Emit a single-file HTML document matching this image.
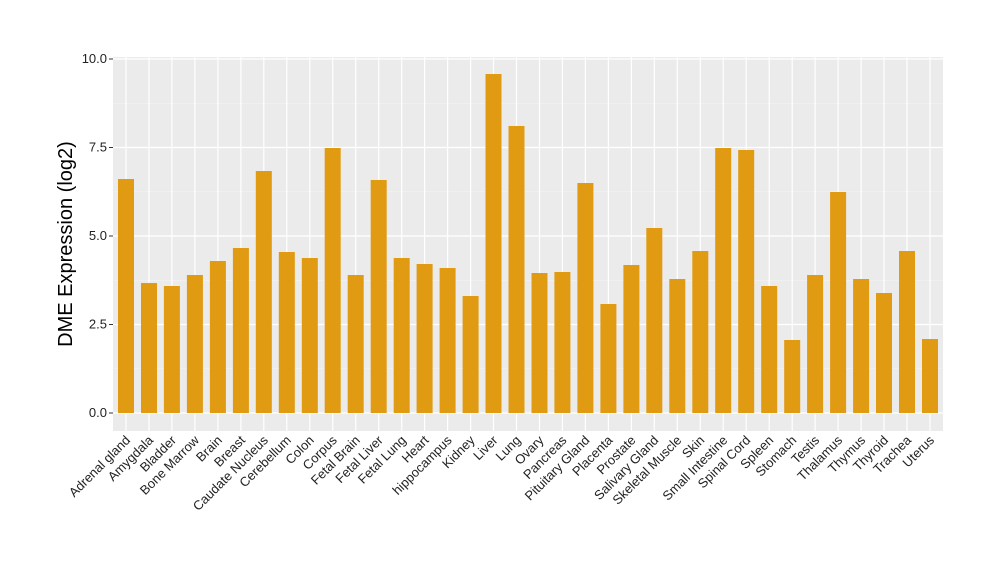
<!DOCTYPE html>
<html><head><meta charset="utf-8"><style>body{margin:0;background:#fff}svg{display:block}</style></head><body>
<svg width="1000" height="580" xmlns="http://www.w3.org/2000/svg" font-family="Liberation Sans, sans-serif">
<rect x="113" y="57" width="830" height="374" fill="#ebebeb"/>
<g stroke="#f5f5f5" stroke-width="0.6">
<line x1="113" x2="943" y1="368.75" y2="368.75"/><line x1="113" x2="943" y1="280.25" y2="280.25"/><line x1="113" x2="943" y1="191.75" y2="191.75"/><line x1="113" x2="943" y1="103.25" y2="103.25"/>
</g>
<g stroke="#fff" stroke-width="1.2">
<line x1="113" x2="943" y1="413" y2="413"/><line x1="113" x2="943" y1="324.5" y2="324.5"/><line x1="113" x2="943" y1="236" y2="236"/><line x1="113" x2="943" y1="147.5" y2="147.5"/><line x1="113" x2="943" y1="59" y2="59"/>
<line x1="126" x2="126" y1="57" y2="431"/><line x1="149" x2="149" y1="57" y2="431"/><line x1="171.9" x2="171.9" y1="57" y2="431"/><line x1="194.9" x2="194.9" y1="57" y2="431"/><line x1="217.9" x2="217.9" y1="57" y2="431"/><line x1="240.9" x2="240.9" y1="57" y2="431"/><line x1="263.8" x2="263.8" y1="57" y2="431"/><line x1="286.8" x2="286.8" y1="57" y2="431"/><line x1="309.8" x2="309.8" y1="57" y2="431"/><line x1="332.7" x2="332.7" y1="57" y2="431"/><line x1="355.7" x2="355.7" y1="57" y2="431"/><line x1="378.7" x2="378.7" y1="57" y2="431"/><line x1="401.7" x2="401.7" y1="57" y2="431"/><line x1="424.6" x2="424.6" y1="57" y2="431"/><line x1="447.6" x2="447.6" y1="57" y2="431"/><line x1="470.6" x2="470.6" y1="57" y2="431"/><line x1="493.5" x2="493.5" y1="57" y2="431"/><line x1="516.5" x2="516.5" y1="57" y2="431"/><line x1="539.5" x2="539.5" y1="57" y2="431"/><line x1="562.4" x2="562.4" y1="57" y2="431"/><line x1="585.4" x2="585.4" y1="57" y2="431"/><line x1="608.4" x2="608.4" y1="57" y2="431"/><line x1="631.4" x2="631.4" y1="57" y2="431"/><line x1="654.3" x2="654.3" y1="57" y2="431"/><line x1="677.3" x2="677.3" y1="57" y2="431"/><line x1="700.3" x2="700.3" y1="57" y2="431"/><line x1="723.2" x2="723.2" y1="57" y2="431"/><line x1="746.2" x2="746.2" y1="57" y2="431"/><line x1="769.2" x2="769.2" y1="57" y2="431"/><line x1="792.2" x2="792.2" y1="57" y2="431"/><line x1="815.1" x2="815.1" y1="57" y2="431"/><line x1="838.1" x2="838.1" y1="57" y2="431"/><line x1="861.1" x2="861.1" y1="57" y2="431"/><line x1="884" x2="884" y1="57" y2="431"/><line x1="907" x2="907" y1="57" y2="431"/><line x1="930" x2="930" y1="57" y2="431"/>
</g>
<g fill="#e09b12">
<rect x="118" y="179" width="16" height="234"/>
<rect x="141" y="283" width="16" height="130"/>
<rect x="163.9" y="286" width="16" height="127"/>
<rect x="186.9" y="275" width="16" height="138"/>
<rect x="209.9" y="261" width="16" height="152"/>
<rect x="232.9" y="248" width="16" height="165"/>
<rect x="255.8" y="171" width="16" height="242"/>
<rect x="278.8" y="252" width="16" height="161"/>
<rect x="301.8" y="258" width="16" height="155"/>
<rect x="324.7" y="148" width="16" height="265"/>
<rect x="347.7" y="275" width="16" height="138"/>
<rect x="370.7" y="180" width="16" height="233"/>
<rect x="393.7" y="258" width="16" height="155"/>
<rect x="416.6" y="264" width="16" height="149"/>
<rect x="439.6" y="268" width="16" height="145"/>
<rect x="462.6" y="296" width="16" height="117"/>
<rect x="485.5" y="74" width="16" height="339"/>
<rect x="508.5" y="126" width="16" height="287"/>
<rect x="531.5" y="273" width="16" height="140"/>
<rect x="554.4" y="272" width="16" height="141"/>
<rect x="577.4" y="183" width="16" height="230"/>
<rect x="600.4" y="304" width="16" height="109"/>
<rect x="623.4" y="265" width="16" height="148"/>
<rect x="646.3" y="228" width="16" height="185"/>
<rect x="669.3" y="279" width="16" height="134"/>
<rect x="692.3" y="251" width="16" height="162"/>
<rect x="715.2" y="148" width="16" height="265"/>
<rect x="738.2" y="150" width="16" height="263"/>
<rect x="761.2" y="286" width="16" height="127"/>
<rect x="784.2" y="340" width="16" height="73"/>
<rect x="807.1" y="275" width="16" height="138"/>
<rect x="830.1" y="192" width="16" height="221"/>
<rect x="853.1" y="279" width="16" height="134"/>
<rect x="876" y="293" width="16" height="120"/>
<rect x="899" y="251" width="16" height="162"/>
<rect x="922" y="339" width="16" height="74"/>
</g>
<g stroke="#333">
<line x1="109" x2="113" y1="413" y2="413"/><line x1="109" x2="113" y1="324.5" y2="324.5"/><line x1="109" x2="113" y1="236" y2="236"/><line x1="109" x2="113" y1="147.5" y2="147.5"/><line x1="109" x2="113" y1="59" y2="59"/>
</g>
<g font-size="13" fill="#222" text-anchor="end">
<text x="107" y="417">0.0</text><text x="107" y="328.5">2.5</text><text x="107" y="240">5.0</text><text x="107" y="151.5">7.5</text><text x="107" y="63">10.0</text>
</g>
<g font-size="13" fill="#222" text-anchor="end">
<text transform="translate(131,441) rotate(-45)">Adrenal gland</text>
<text transform="translate(154,441) rotate(-45)">Amygdala</text>
<text transform="translate(176.9,441) rotate(-45)">Bladder</text>
<text transform="translate(199.9,441) rotate(-45)">Bone Marrow</text>
<text transform="translate(222.9,441) rotate(-45)">Brain</text>
<text transform="translate(245.9,441) rotate(-45)">Breast</text>
<text transform="translate(268.8,441) rotate(-45)">Caudate Nucleus</text>
<text transform="translate(291.8,441) rotate(-45)">Cerebellum</text>
<text transform="translate(314.8,441) rotate(-45)">Colon</text>
<text transform="translate(337.7,441) rotate(-45)">Corpus</text>
<text transform="translate(360.7,441) rotate(-45)">Fetal Brain</text>
<text transform="translate(383.7,441) rotate(-45)">Fetal Liver</text>
<text transform="translate(406.7,441) rotate(-45)">Fetal Lung</text>
<text transform="translate(429.6,441) rotate(-45)">Heart</text>
<text transform="translate(452.6,441) rotate(-45)">hippocampus</text>
<text transform="translate(475.6,441) rotate(-45)">Kidney</text>
<text transform="translate(498.5,441) rotate(-45)">Liver</text>
<text transform="translate(521.5,441) rotate(-45)">Lung</text>
<text transform="translate(544.5,441) rotate(-45)">Ovary</text>
<text transform="translate(567.4,441) rotate(-45)">Pancreas</text>
<text transform="translate(590.4,441) rotate(-45)">Pituitary Gland</text>
<text transform="translate(613.4,441) rotate(-45)">Placenta</text>
<text transform="translate(636.4,441) rotate(-45)">Prostate</text>
<text transform="translate(659.3,441) rotate(-45)">Salivary Gland</text>
<text transform="translate(682.3,441) rotate(-45)">Skeletal Muscle</text>
<text transform="translate(705.3,441) rotate(-45)">Skin</text>
<text transform="translate(728.2,441) rotate(-45)">Small Intestine</text>
<text transform="translate(751.2,441) rotate(-45)">Spinal Cord</text>
<text transform="translate(774.2,441) rotate(-45)">Spleen</text>
<text transform="translate(797.2,441) rotate(-45)">Stomach</text>
<text transform="translate(820.1,441) rotate(-45)">Testis</text>
<text transform="translate(843.1,441) rotate(-45)">Thalamus</text>
<text transform="translate(866.1,441) rotate(-45)">Thymus</text>
<text transform="translate(889,441) rotate(-45)">Thyroid</text>
<text transform="translate(912,441) rotate(-45)">Trachea</text>
<text transform="translate(935,441) rotate(-45)">Uterus</text>
</g>
<text transform="translate(72,244) rotate(-90)" font-size="20" text-anchor="middle" fill="#000">DME Expression (log2)</text>
</svg>
</body></html>
